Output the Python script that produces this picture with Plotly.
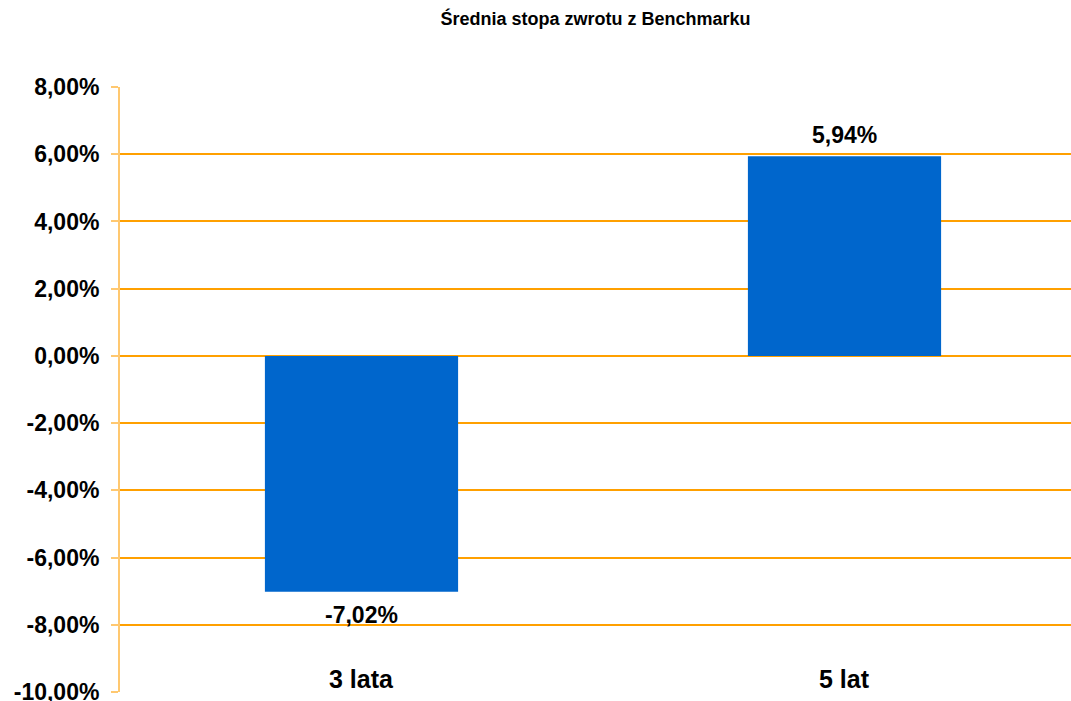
import plotly.graph_objects as go

categories = ["3 lata", "5 lat"]
values = [-7.02, 5.94]
title_text = "Średnia stopa zwrotu z Benchmarku"
y_ticks = [-10, -8, -6, -4, -2, 0, 2, 4, 6, 8]

FONT = "Liberation Sans, Arial, sans-serif"
GRID = "#FFA000"
AXIS = "#FFC870"
BAR = "#0066CC"

xpos = list(range(len(categories)))

fig = go.Figure()
fig.add_trace(go.Bar(
    x=xpos, y=values, marker=dict(color=BAR, line=dict(width=0)),
    width=0.40, showlegend=False, hoverinfo="skip",
))

# data labels
for xi, v in zip(xpos, values):
    fig.add_annotation(
        x=xi, y=v, xref="x", yref="y",
        text=f"{v:.2f}%".replace(".", ","),
        showarrow=False,
        yanchor="bottom" if v >= 0 else "top",
        yshift=6 if v >= 0 else -8,
        font=dict(family=FONT, size=23, color="#000000", weight="bold"),
    )

# category labels at bottom of plot
for xi, c in zip(xpos, categories):
    fig.add_annotation(
        x=xi, y=y_ticks[0], xref="x", yref="y",
        text=c, showarrow=False, yanchor="bottom", yshift=-3,
        font=dict(family=FONT, size=25, color="#000000", weight="bold"),
    )

fig.update_layout(
    width=1071, height=701,
    margin=dict(l=120, r=0, t=87, b=9, autoexpand=False),
    paper_bgcolor="white", plot_bgcolor="white",
    title=dict(
        text=title_text, x=0.5, xref="paper", xanchor="center",
        y=1 - 19 / 701, yref="container", yanchor="middle",
        font=dict(family=FONT, size=18, color="#000000", weight="bold"),
    ),
    xaxis=dict(
        range=[-0.5, -0.5 + (1071 - 120) / 483],
        showgrid=False, zeroline=False, showticklabels=False,
        showline=False, ticks="", automargin=False,
    ),
    yaxis=dict(
        range=[-10, 8], tickvals=y_ticks,
        ticktext=[f"{t:.2f}%".replace(".", ",") for t in y_ticks],
        showgrid=True, gridcolor=GRID, gridwidth=1.5,
        zeroline=False, automargin=False,
        showline=True, linecolor=AXIS, linewidth=2,
        ticks="outside", ticklen=7, tickcolor=AXIS, tickwidth=1.5,
        ticklabelstandoff=7, ticklabeloverflow="allow",
        tickfont=dict(family=FONT, size=23, color="#000000", weight="bold"),
    ),
)

fig.write_html(
    "out.html",
    config={"displayModeBar": False},
    post_script="document.body.style.margin='0';document.body.style.overflow='hidden';",
)
